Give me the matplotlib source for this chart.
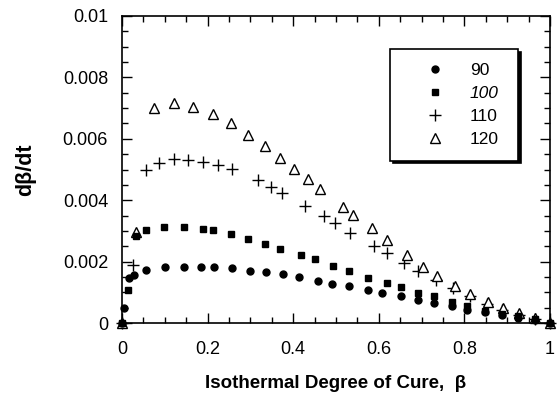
import matplotlib.pyplot as plt
from matplotlib.ticker import MultipleLocator

plt.rcParams["font.family"] = ["Liberation Sans", "DejaVu Sans"]

# Isothermal cure rate data
beta_90 = [0.0, 0.005, 0.017, 0.029, 0.056, 0.101, 0.144, 0.185, 0.215, 0.257,
           0.298, 0.337, 0.376, 0.413, 0.458, 0.491, 0.530, 0.575, 0.608, 0.653,
           0.692, 0.729, 0.770, 0.805, 0.848, 0.887, 0.926, 0.965, 1.0]
rate_90 = [0.0, 0.00049, 0.00146, 0.00157, 0.00173, 0.00182, 0.00184, 0.00182,
           0.00181, 0.00179, 0.00171, 0.00165, 0.00159, 0.00150, 0.00138, 0.00128,
           0.00119, 0.00106, 0.00098, 0.00087, 0.00076, 0.00065, 0.00056, 0.00043,
           0.00035, 0.00027, 0.00016, 0.00011, 0.0]

beta_100 = [0.0, 0.015, 0.033, 0.056, 0.099, 0.144, 0.189, 0.212, 0.255, 0.294,
            0.333, 0.370, 0.419, 0.452, 0.493, 0.530, 0.575, 0.618, 0.653, 0.692,
            0.729, 0.770, 0.807, 0.848, 0.887, 0.926, 0.965, 1.0]
rate_100 = [0.0, 0.00108, 0.00282, 0.00303, 0.00314, 0.00314, 0.00306, 0.00303,
            0.00289, 0.00274, 0.00257, 0.00242, 0.00220, 0.00208, 0.00187, 0.00168,
            0.00148, 0.00130, 0.00116, 0.00098, 0.00087, 0.00067, 0.00054, 0.00040,
            0.00029, 0.00022, 0.00013, 0.0]

beta_110 = [0.0, 0.025, 0.055, 0.087, 0.121, 0.155, 0.190, 0.224, 0.257, 0.317,
            0.347, 0.374, 0.427, 0.472, 0.497, 0.532, 0.589, 0.618, 0.658, 0.692,
            0.733, 0.774, 0.813, 0.852, 0.889, 0.928, 0.965, 1.0]
rate_110 = [0.0, 0.00190, 0.00498, 0.00522, 0.00533, 0.00531, 0.00525, 0.00515,
            0.00501, 0.00466, 0.00444, 0.00425, 0.00382, 0.00347, 0.00327, 0.00293,
            0.00251, 0.00228, 0.00195, 0.00168, 0.00141, 0.00114, 0.00089, 0.00063,
            0.00043, 0.00027, 0.00013, 0.0]

beta_120 = [0.0, 0.033, 0.074, 0.121, 0.167, 0.212, 0.255, 0.294, 0.333, 0.370,
            0.403, 0.434, 0.462, 0.516, 0.540, 0.584, 0.618, 0.666, 0.704, 0.737,
            0.779, 0.813, 0.854, 0.891, 0.927, 0.965, 1.0]
rate_120 = [0.0, 0.00296, 0.00699, 0.00715, 0.00704, 0.00680, 0.00650, 0.00614,
            0.00577, 0.00538, 0.00501, 0.00469, 0.00437, 0.00379, 0.00352, 0.00308,
            0.00269, 0.00221, 0.00184, 0.00154, 0.00121, 0.00095, 0.00070, 0.00049,
            0.00033, 0.00016, 0.0]

x_ticks = [0, 0.2, 0.4, 0.6, 0.8, 1.0]
x_ticklabels = ["0", "0.2", "0.4", "0.6", "0.8", "1"]
y_ticks = [0, 0.002, 0.004, 0.006, 0.008, 0.01]
y_ticklabels = ["0", "0.002", "0.004", "0.006", "0.008", "0.01"]

fig = plt.figure(figsize=(5.58, 4.01), dpi=100)
ax = fig.add_axes([122 / 558, 1 - 323 / 401, 428 / 558, 307 / 401])

ax.plot(beta_90, rate_90, "o", ms=5, color="black", label="90", clip_on=False, zorder=4)
ax.plot(beta_100, rate_100, "s", ms=5, color="black", label="100", clip_on=False, zorder=5)
ax.plot(beta_110, rate_110, "+", ms=9, mew=1.0, color="black", label="110",
        clip_on=False, zorder=3)
ax.plot(beta_120, rate_120, "^", ms=7.5, mfc="white", mec="black", mew=1.0,
        label="120", clip_on=False, zorder=3)

ax.set_xlim(0, 1)
ax.set_ylim(0, 0.01)
ax.xaxis.set_minor_locator(MultipleLocator(0.05))
ax.yaxis.set_minor_locator(MultipleLocator(0.0005))
ax.set_xticks(x_ticks, x_ticklabels)
ax.set_yticks(y_ticks, y_ticklabels)
ax.tick_params(which="both", direction="in", top=True, right=True, labelsize=13,
               width=1, color="black")
ax.tick_params(which="major", length=7)
ax.tick_params(which="minor", length=4)
ax.tick_params(axis="x", which="major", pad=13)
ax.tick_params(axis="y", which="major", pad=10)
for s in ax.spines.values():
    s.set_linewidth(1.2)

ax.set_xlabel("Isothermal Degree of Cure,  β", fontsize=13.5, fontweight="bold", labelpad=12)
ax.set_ylabel("dβ/dt", fontsize=15.5, fontweight="bold", labelpad=19)

leg = ax.legend(loc="upper left", bbox_to_anchor=(0.626, 0.893, 0.299, 0.0),
                mode="expand", fontsize=12.5, frameon=True, fancybox=False,
                shadow={"color": "black", "alpha": 1.0}, labelspacing=0.45,
                handlelength=3.55, handletextpad=0.25, borderpad=0.8,
                borderaxespad=0, markerscale=1.0)
leg.set_zorder(10)
leg.get_frame().set_edgecolor("black")
leg.get_frame().set_linewidth(1.2)
leg.get_texts()[1].set_fontstyle("italic")

fig.savefig("out.png", dpi=100)
